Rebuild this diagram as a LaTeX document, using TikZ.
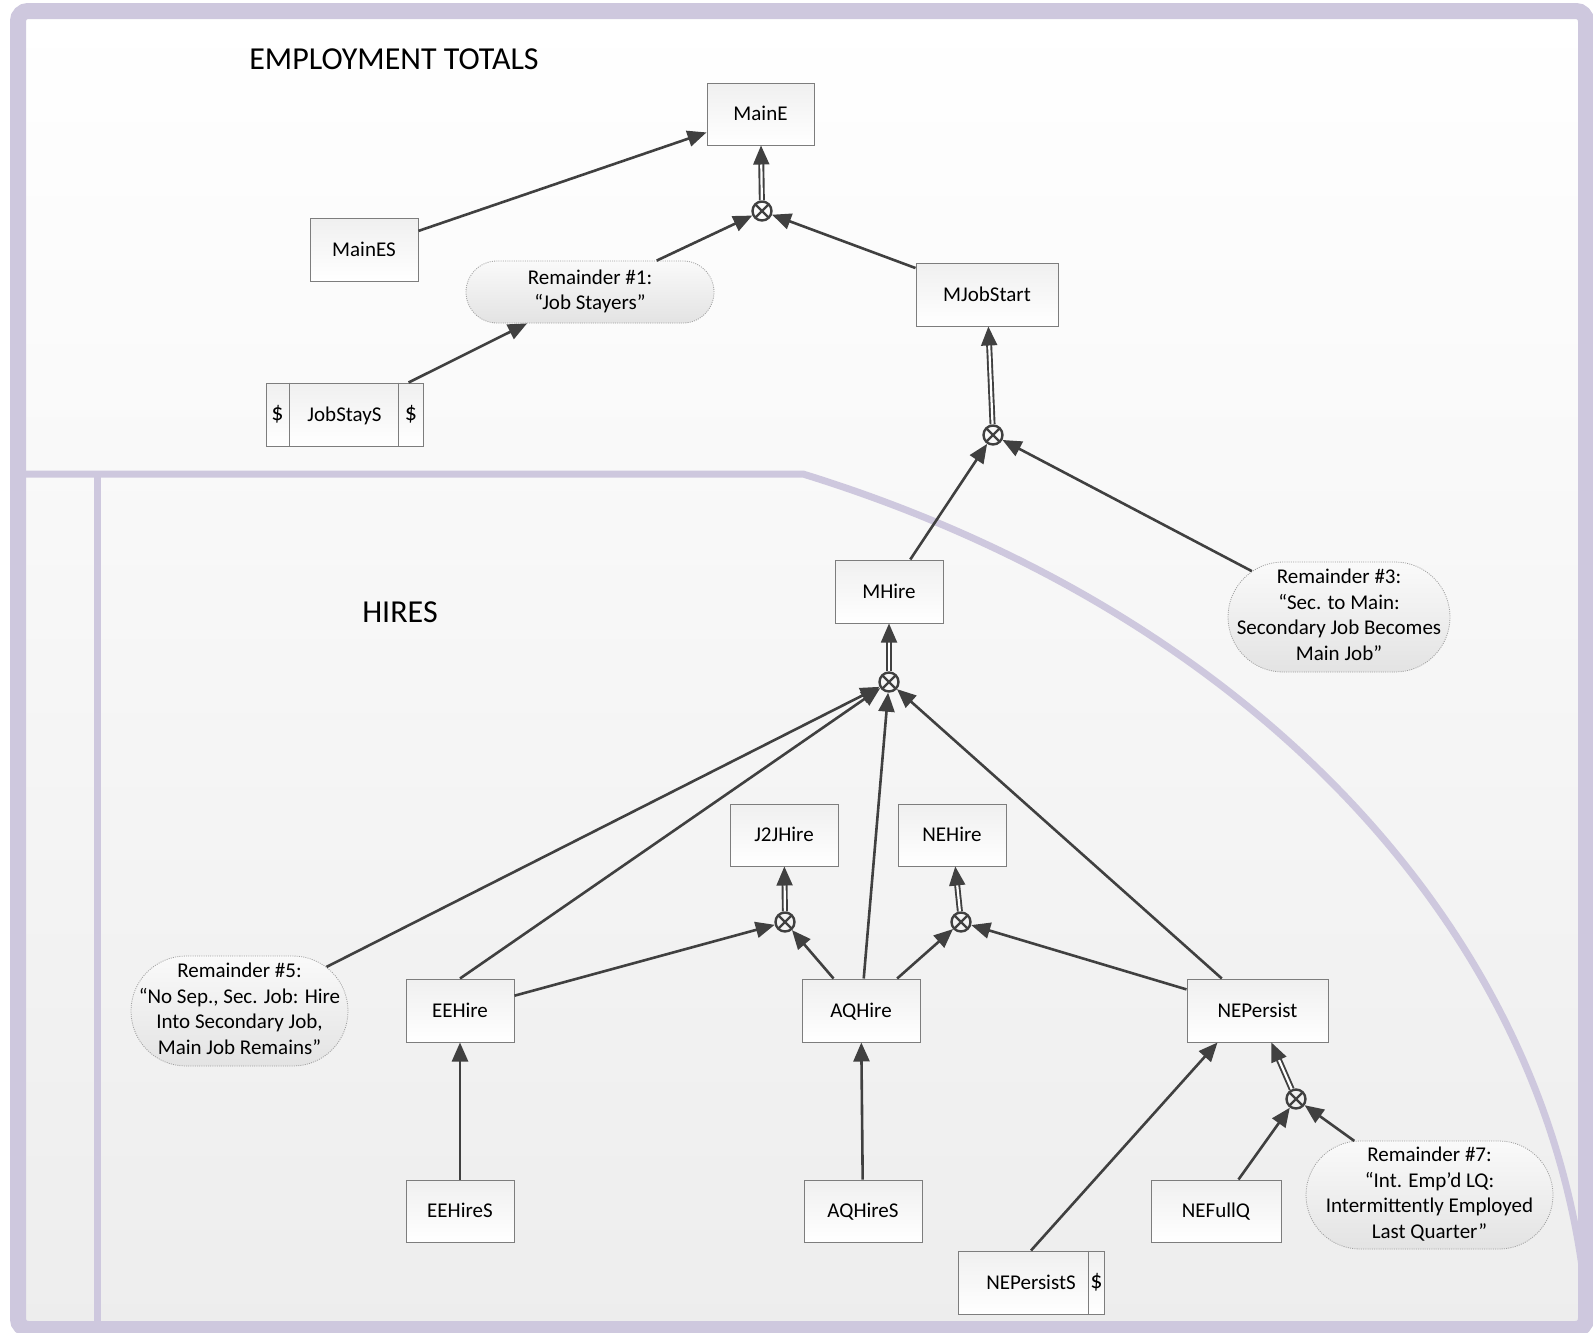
\documentclass[tikz,border=0pt]{standalone}
\usepackage{fontspec}
\setmainfont{Carlito}
\usetikzlibrary{arrows.meta,shapes.misc,calc}
\definecolor{lav}{RGB}{206,200,222}
\definecolor{cline}{RGB}{64,64,64}
\definecolor{boxline}{RGB}{125,125,125}
\newcommand{\pilltext}[1]{\makebox[0pt]{\begin{tabular}{@{}c@{}}#1\end{tabular}}}
\begin{document}
\begin{tikzpicture}[x=1pt,y=-1pt,
  lbl/.style={font=\fontsize{24}{28}\selectfont},
  box/.style={rectangle, draw=boxline, line width=1pt, top color=gray!12, bottom color=white,
    inner sep=0pt, text height=13.5pt, text depth=0pt, font=\fontsize{21}{25.5}\selectfont},
  pill/.style={rounded rectangle, draw=gray!75, line width=0.8pt, dash pattern=on 1pt off 1.2pt,
    top color=gray!4, bottom color=gray!22, inner sep=0pt, font=\fontsize{21}{25.5}\selectfont},
  xnode/.style={circle, draw=cline, line width=2.4pt, minimum size=19pt, inner sep=0pt,
    path picture={\draw[cline, line width=2.2pt]
      (path picture bounding box.north west) -- (path picture bounding box.south east)
      (path picture bounding box.north east) -- (path picture bounding box.south west);}},
  arr/.style={draw=cline, line width=2.6pt, -{Triangle[length=19pt,width=16pt]}},
  darr/.style={draw=cline, line width=1.9pt, double=white, double distance=2.2pt,
    -{Triangle[length=19pt,width=16pt]}},
  title/.style={font=\fontsize{32}{38}\selectfont, inner sep=0pt}
]
\useasboundingbox (0,0) rectangle (1593,1333);
% background
\fill[top color=white, bottom color=gray!14] (18,11) rectangle (1586,1329);
% dividers
\draw[lav, line width=7pt] (18,474) -- (803,474) .. controls (1250,612) and (1550,930) .. (1586,1300);
\draw[lav, line width=7pt] (97,474) -- (97,1329);
% frame
\draw[lav, line width=16pt, rounded corners=10pt] (18,11) rectangle (1586,1329);

% titles
\node[title] (tEmp) at (394,59) {EMPLOYMENT TOTALS};
\node[title] (tHires) at (400,612) {HIRES};

% boxes
\node[box, minimum width=107pt, minimum height=62pt] (MainE) at (760.5,114) {MainE};
\node[box, minimum width=108pt, minimum height=63pt] (MainES) at (364,249.5) {MainES};
\node[box, minimum width=142pt, minimum height=63pt] (MJobStart) at (987,294.5) {MJobStart};
\node[box, minimum width=157pt, minimum height=63pt] (JobStayS) at (344.5,414.5) {JobStayS};
\node[box, minimum width=108pt, minimum height=63pt] (MHire) at (889,591.5) {MHire};
\node[box, minimum width=108pt, minimum height=62pt] (J2JHire) at (784,835) {J2JHire};
\node[box, minimum width=108pt, minimum height=62pt] (NEHire) at (952,835) {NEHire};
\node[box, minimum width=108pt, minimum height=63pt] (EEHire) at (460,1010.5) {EEHire};
\node[box, minimum width=118pt, minimum height=63pt] (AQHire) at (861,1010.5) {AQHire};
\node[box, minimum width=141pt, minimum height=63pt] (NEPersist) at (1257.5,1010.5) {NEPersist};
\node[box, minimum width=108pt, minimum height=62pt] (EEHireS) at (460,1211) {EEHireS};
\node[box, minimum width=118pt, minimum height=62pt] (AQHireS) at (863,1211) {AQHireS};
\node[box, minimum width=130pt, minimum height=62pt] (NEFullQ) at (1216,1211) {NEFullQ};
\node[box, minimum width=146pt, minimum height=63pt] (NEPersistS) at (1031,1282.5) {NEPersistS};

% dollar cells
\draw[boxline, line width=1pt] ([xshift=24pt]JobStayS.north west) -- ([xshift=24pt]JobStayS.south west);
\draw[boxline, line width=1pt] ([xshift=-25pt]JobStayS.north east) -- ([xshift=-25pt]JobStayS.south east);
\node[lbl] (jsL) at ($(JobStayS.west)+(12,0)$) {\$};
\node[lbl] (jsR) at ($(JobStayS.east)+(-12.5,0)$) {\$};
\draw[boxline, line width=1pt] ([xshift=-16pt]NEPersistS.north east) -- ([xshift=-16pt]NEPersistS.south east);
\node[lbl] (npR) at ($(NEPersistS.east)+(-8,0)$) {\$};

% pills
\node[pill, minimum width=248pt, minimum height=62pt] (R1) at (590,292)
  {\pilltext{Remainder \#1:\\“Job Stayers”}};
\node[pill, minimum width=222pt, minimum height=110pt] (R3) at (1339,617)
  {\pilltext{Remainder \#3:\\“Sec. to Main:\\Secondary Job Becomes\\Main Job”}};
\node[pill, minimum width=217pt, minimum height=110pt] (R5) at (239.5,1011)
  {\pilltext{Remainder \#5:\\“No Sep., Sec. Job: Hire\\Into Secondary Job,\\Main Job Remains”}};
\node[pill, minimum width=247pt, minimum height=108pt] (R7) at (1429.5,1195)
  {\pilltext{Remainder \#7:\\“Int. Emp’d LQ:\\Intermittently Employed\\Last Quarter”}};

% junctions
\node[xnode] (X1) at (762,211) {};
\node[xnode] (X2) at (993,435) {};
\node[xnode] (X3) at (889,682) {};
\node[xnode] (XJ) at (785,922) {};
\node[xnode] (XN) at (961,922) {};
\node[xnode] (XP) at (1296,1099) {};

% connectors
\draw[arr] (MainES) -- (MainE);
\draw[arr] (R1) -- (X1);
\draw[arr] (MJobStart) -- (X1);
\draw[darr] (X1) -- (MainE);
\draw[arr] (JobStayS) -- (R1);
\draw[darr] (X2) -- (MJobStart);
\draw[arr] (MHire) -- (X2);
\draw[arr] (R3) -- (X2);
\draw[darr] (X3) -- (MHire);
\draw[arr] (R5) -- (X3);
\draw[arr] (EEHire.north) -- (X3);
\draw[arr] (AQHire) -- (X3);
\draw[arr] (NEPersist) -- (X3);
\draw[arr] (EEHire) -- (XJ);
\draw[arr] (AQHire) -- (XJ);
\draw[darr] (XJ) -- (J2JHire);
\draw[arr] (AQHire) -- (XN);
\draw[arr] (NEPersist) -- (XN);
\draw[darr] (XN) -- (NEHire);
\draw[arr] (EEHireS) -- (EEHire);
\draw[arr] (AQHireS) -- (AQHire);
\coordinate (npIn) at ([xshift=31pt]NEPersist.south west);
\draw[arr] (NEPersistS.north) -- (npIn);
\draw[darr] (XP) -- (NEPersist);
\draw[arr] (NEFullQ) -- (XP);
\draw[arr] (R7) -- (XP);
\end{tikzpicture}
\end{document}
